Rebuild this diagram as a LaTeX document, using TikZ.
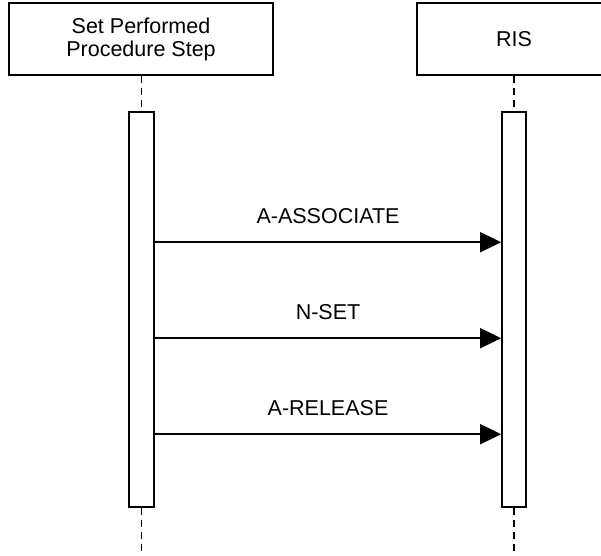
\documentclass[tikz,border=0pt]{standalone}
\usepackage{fontspec}
\setmainfont{Liberation Sans}
\usetikzlibrary{arrows.meta}

\begin{document}
\begin{tikzpicture}[x=1pt, y=-1pt,
    every node/.style={font=\fontsize{21.5}{23}\selectfont},
    actor/.style={draw, line width=1.6pt, align=center, minimum height=72pt, inner sep=0pt},
    activation/.style={draw, line width=1.6pt, fill=white, minimum height=395pt, inner sep=0pt},
    lifeline/.style={line width=1.6pt, dash pattern=on 7pt off 5pt},
    msg/.style={line width=1.5pt, -{Triangle[length=21pt, width=20pt]}},
    msglabel/.style={pos=0.5, anchor=base, yshift=19pt}]
    %%%%% START %%%%%

    \useasboundingbox (0,0) rectangle (601,555);
    \clip (0,0) rectangle (601,555);

    % participants
    \node[actor, minimum width=264pt] (spps) at (141,39) {Set Performed\\Procedure Step};
    \node[actor, minimum width=194pt] (ris) at (514,39) {RIS};

    % activation bars
    \node[activation, minimum width=25pt] (sppsbar) at (141.5,309.5) {};
    \node[activation, minimum width=24pt] (risbar) at (514,309.5) {};

    % lifelines
    \coordinate (sppsend) at (141.5,555);
    \coordinate (risend) at (514,555);
    \draw[lifeline] (spps.south -| sppsbar.north) -- (sppsbar.north);
    \draw[lifeline] (sppsbar.south) -- (sppsend);
    \draw[lifeline] (ris.south) -- (risbar.north);
    \draw[lifeline] (risbar.south) -- (risend);

    % messages
    \draw[msg] ([yshift=-131pt]sppsbar.north east) -- ([yshift=-131pt]risbar.north west)
        node[msglabel] {A-ASSOCIATE};
    \draw[msg] ([yshift=-227pt]sppsbar.north east) -- ([yshift=-227pt]risbar.north west)
        node[msglabel] {N-SET};
    \draw[msg] ([yshift=-323pt]sppsbar.north east) -- ([yshift=-323pt]risbar.north west)
        node[msglabel] {A-RELEASE};

    %%%%% END %%%%%
\end{tikzpicture}
\end{document}
